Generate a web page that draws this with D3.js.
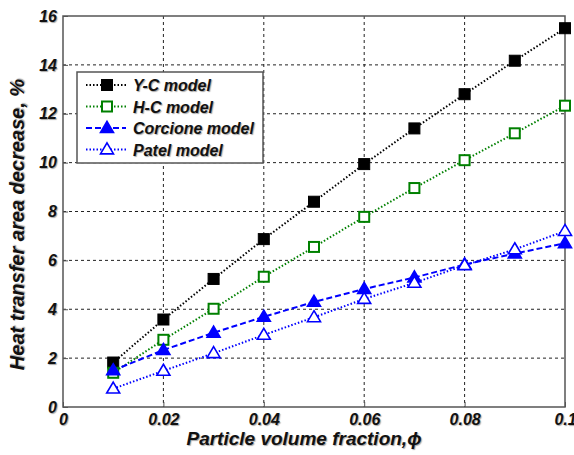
<!DOCTYPE html>
<html>
<head>
<meta charset="utf-8">
<script src="https://cdn.jsdelivr.net/npm/d3@7"></script>
<style>
  body { margin: 0; background: #fff; }
  text { font-family: "Liberation Sans", Arial, sans-serif; font-weight: bold; font-style: italic; fill: #111;
         text-shadow: 1px 1px 1px rgba(0,0,0,0.35); }
</style>
</head>
<body>
<svg id="chart" width="574" height="455"></svg>
<script>
// data
var fractions = [0.01, 0.02, 0.03, 0.04, 0.05, 0.06, 0.07, 0.08, 0.09, 0.1];
var ycModel = [1.82, 3.58, 5.24, 6.87, 8.4, 9.94, 11.4, 12.8, 14.17, 15.5];
var hcModel = [1.4, 2.75, 4.02, 5.33, 6.55, 7.78, 8.96, 10.1, 11.2, 12.33];
var corcioneModel = [1.5, 2.33, 3.04, 3.69, 4.3, 4.83, 5.3, 5.83, 6.28, 6.7];
var patelModel = [0.75, 1.48, 2.2, 2.95, 3.67, 4.42, 5.08, 5.8, 6.45, 7.2];
var xTicks = [0, 0.02, 0.04, 0.06, 0.08, 0.1];
var xTickLabels = ["0", "0.02", "0.04", "0.06", "0.08", "0.1"];
var yTicks = [0, 2, 4, 6, 8, 10, 12, 14, 16];
var seriesNames = ["Y-C model", "H-C model", "Corcione model", "Patel model"];

var series = [
    {name: seriesNames[0], values: ycModel, color: "#000000", dash: "1.5,2", marker: "square", filled: true},
    {name: seriesNames[1], values: hcModel, color: "#008000", dash: "1.5,2", marker: "square", filled: false},
    {name: seriesNames[2], values: corcioneModel, color: "#0000ff", dash: "6,3", marker: "triangle", filled: true},
    {name: seriesNames[3], values: patelModel, color: "#0000ff", dash: "1.5,2", marker: "triangle", filled: false}
];

var svg = d3.select("#chart");
var plotLeft = 63, plotRight = 565, plotTop = 16, plotBottom = 407;

var x = d3.scaleLinear().domain([0, 0.1]).range([plotLeft, plotRight]);
var y = d3.scaleLinear().domain([0, 16]).range([plotBottom, plotTop]);

// grid
var grid = svg.append("g");
xTicks.slice(1, -1).forEach(function (t) {
    grid.append("line")
        .attr("x1", x(t)).attr("x2", x(t)).attr("y1", plotTop).attr("y2", plotBottom)
        .attr("stroke", "#222").attr("stroke-width", 1).attr("stroke-dasharray", "3,3");
});
yTicks.slice(1, -1).forEach(function (t) {
    grid.append("line")
        .attr("x1", plotLeft).attr("x2", plotRight).attr("y1", y(t)).attr("y2", y(t))
        .attr("stroke", "#222").attr("stroke-width", 1).attr("stroke-dasharray", "3,3");
});

// frame
svg.append("rect")
    .attr("x", plotLeft).attr("y", plotTop)
    .attr("width", plotRight - plotLeft).attr("height", plotBottom - plotTop)
    .attr("fill", "none").attr("stroke", "#555").attr("stroke-width", 1.5);

// axes (ticks inside)
var xAxis = d3.axisBottom(x).tickValues(xTicks).tickSize(-5)
    .tickFormat(function (d, i) { return xTickLabels[i]; });
var gx = svg.append("g").attr("transform", "translate(0," + plotBottom + ")").call(xAxis);
gx.select(".domain").remove();
gx.selectAll(".tick line").attr("stroke", "#555");
gx.selectAll(".tick text").attr("y", 4).attr("dy", "0.9em").style("font-size", "16px");

var yAxis = d3.axisLeft(y).tickValues(yTicks).tickSize(-5);
var gy = svg.append("g").attr("transform", "translate(" + plotLeft + ",0)").call(yAxis);
gy.select(".domain").remove();
gy.selectAll(".tick line").attr("stroke", "#555");
gy.selectAll(".tick text").attr("x", -6).style("font-size", "16px");

// axis titles
svg.append("text")
    .attr("x", (plotLeft + plotRight) / 2 - 10).attr("y", 445)
    .attr("text-anchor", "middle").style("font-size", "19px")
    .text("Particle volume fraction,\u03d5");
svg.append("text")
    .attr("transform", "translate(24," + ((plotTop + plotBottom) / 2 + 13) + ") rotate(-90)")
    .attr("text-anchor", "middle").style("font-size", "20px")
    .text("Heat transfer area decrease, %");

function drawMarker(g, s, cx, cy) {
    if (s.marker == "square") {
        var size = s.filled ? 11 : 10;
        g.append("rect")
            .attr("x", cx - size / 2).attr("y", cy - size / 2)
            .attr("width", size).attr("height", size)
            .attr("fill", s.filled ? s.color : "#fff")
            .attr("stroke", s.color).attr("stroke-width", s.filled ? 1 : 2);
    } else {
        var h = 11, w = 13;
        g.append("path")
            .attr("d", "M" + cx + "," + (cy - h * 0.6) + "L" + (cx + w / 2) + "," + (cy + h * 0.4) +
                "L" + (cx - w / 2) + "," + (cy + h * 0.4) + "Z")
            .attr("fill", s.filled ? s.color : "#fff")
            .attr("stroke", s.color).attr("stroke-width", 1.6);
    }
}

var line = d3.line()
    .x(function (d) { return x(d[0]); })
    .y(function (d) { return y(d[1]); });

series.forEach(function (s) {
    var pts = fractions.map(function (f, i) { return [f, s.values[i]]; });
    svg.append("path")
        .attr("d", line(pts))
        .attr("fill", "none").attr("stroke", s.color)
        .attr("stroke-width", 2).attr("stroke-dasharray", s.dash);
});
series.forEach(function (s) {
    var g = svg.append("g");
    fractions.forEach(function (f, i) { drawMarker(g, s, x(f), y(s.values[i])); });
});

// legend
var legend = svg.append("g");
legend.append("rect")
    .attr("x", 77).attr("y", 72).attr("width", 186).attr("height", 91)
    .attr("fill", "#fff").attr("stroke", "#555").attr("stroke-width", 1.5);
series.forEach(function (s, i) {
    var ly = 85 + i * 21.5;
    legend.append("line")
        .attr("x1", 86).attr("x2", 126).attr("y1", ly).attr("y2", ly)
        .attr("stroke", s.color).attr("stroke-width", 2).attr("stroke-dasharray", s.dash);
    drawMarker(legend, s, 107, ly);
    legend.append("text")
        .attr("x", 133).attr("y", ly + 6)
        .style("font-size", "16px")
        .text(s.name);
});
</script>
</body>
</html>
